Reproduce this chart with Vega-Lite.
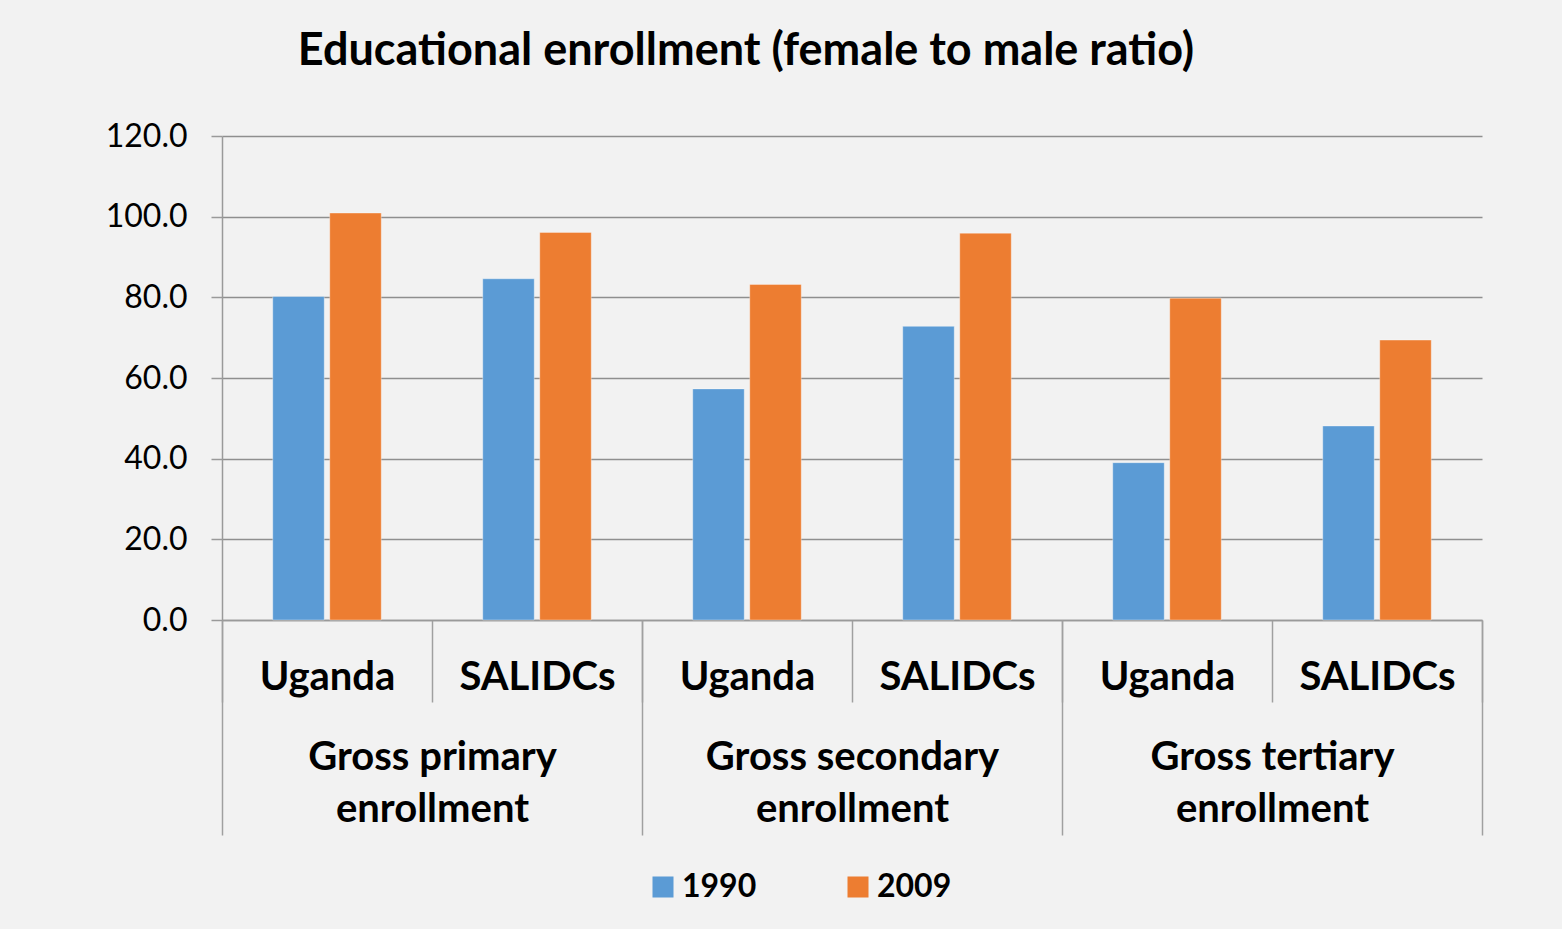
{
  "$schema": "https://vega.github.io/schema/vega-lite/v6.json",
  "width": 1260,
  "height": 484,
  "autosize": {"type": "none"},
  "padding": {"left": 222, "top": 136, "right": 80, "bottom": 309},
  "background": "#f2f2f2",
  "config": {"view": {"stroke": null}, "font": "Lato"},
  "title": {
    "text": "Educational enrollment (female to male ratio)",
    "frame": "group",
    "anchor": "middle",
    "dx": -106,
    "offset": 46,
    "fontSize": 45,
    "font": "Lato",
    "fontWeight": "bold",
    "color": "#000000"
  },
  "data": {
    "values": [
      {"category": "Gross primary enrollment", "bar_group": "primary-Uganda", "country": "Uganda", "year": "1990", "value": 80.2},
      {"category": "Gross primary enrollment", "bar_group": "primary-Uganda", "country": "Uganda", "year": "2009", "value": 100.9},
      {"category": "Gross primary enrollment", "bar_group": "primary-SALIDCs", "country": "SALIDCs", "year": "1990", "value": 84.6},
      {"category": "Gross primary enrollment", "bar_group": "primary-SALIDCs", "country": "SALIDCs", "year": "2009", "value": 96.1},
      {"category": "Gross secondary enrollment", "bar_group": "secondary-Uganda", "country": "Uganda", "year": "1990", "value": 57.3},
      {"category": "Gross secondary enrollment", "bar_group": "secondary-Uganda", "country": "Uganda", "year": "2009", "value": 83.2},
      {"category": "Gross secondary enrollment", "bar_group": "secondary-SALIDCs", "country": "SALIDCs", "year": "1990", "value": 72.8},
      {"category": "Gross secondary enrollment", "bar_group": "secondary-SALIDCs", "country": "SALIDCs", "year": "2009", "value": 95.9},
      {"category": "Gross tertiary enrollment", "bar_group": "tertiary-Uganda", "country": "Uganda", "year": "1990", "value": 39.0},
      {"category": "Gross tertiary enrollment", "bar_group": "tertiary-Uganda", "country": "Uganda", "year": "2009", "value": 79.8},
      {"category": "Gross tertiary enrollment", "bar_group": "tertiary-SALIDCs", "country": "SALIDCs", "year": "1990", "value": 48.1},
      {"category": "Gross tertiary enrollment", "bar_group": "tertiary-SALIDCs", "country": "SALIDCs", "year": "2009", "value": 69.4}
    ]
  },
  "encoding": {
    "y": {
      "field": "value",
      "type": "quantitative",
      "title": null,
      "stack": null,
      "scale": {"domain": [0, 120], "nice": false},
      "axis": {
        "values": [0, 20, 40, 60, 80, 100, 120],
        "format": ".1f",
        "labelFontSize": 32,
        "labelFont": "Lato",
        "labelColor": "#000000",
        "labelPadding": 24,
        "tickSize": 11,
        "tickColor": "#9a9a9a",
        "tickWidth": 1.5,
        "domainColor": "#9a9a9a",
        "domainWidth": 1.5,
        "grid": true,
        "gridColor": "#8f8f8f",
        "gridWidth": 1.5
      }
    }
  },
  "layer": [
    {
      "mark": {"type": "bar", "stroke": "#ffffff", "strokeOpacity": 0.35, "strokeWidth": 1},
      "encoding": {
        "x": {
          "field": "bar_group",
          "type": "nominal",
          "sort": null,
          "title": null,
          "scale": {"paddingInner": 0, "paddingOuter": 0},
          "axis": {
            "orient": "bottom",
            "labelExpr": "datum.value ? split(datum.value, '-')[1] : ''",
            "labelAngle": 0,
            "labelLimit": 0,
            "labelFontSize": 40,
            "labelFont": "Lato",
            "labelFontWeight": "bold",
            "labelColor": "#000000",
            "labelBaseline": "alphabetic",
            "labelPadding": -13,
            "tickBand": "extent",
            "tickSize": 82,
            "tickColor": "#a0a0a0",
            "tickWidth": 1.5,
            "domainColor": "#9a9a9a",
            "domainWidth": 1.5,
            "grid": false
          }
        },
        "xOffset": {
          "field": "year",
          "type": "nominal",
          "scale": {"paddingInner": 0.0965, "paddingOuter": 0.89}
        },
        "color": {
          "field": "year",
          "type": "nominal",
          "scale": {"domain": ["1990", "2009"], "range": ["#5b9bd5", "#ed7d31"]},
          "legend": {
            "title": null,
            "orient": "none",
            "legendX": 425,
            "legendY": 735,
            "direction": "horizontal",
            "padding": 0,
            "symbolType": "square",
            "symbolSize": 441,
            "symbolStrokeWidth": 0,
            "labelFontSize": 32,
            "labelFont": "Lato",
            "labelFontWeight": "bold",
            "labelColor": "#000000",
            "labelOffset": 3,
            "columnPadding": 85
          }
        }
      }
    },
    {
      "mark": {"type": "bar", "opacity": 0},
      "encoding": {
        "x": {
          "field": "category",
          "type": "nominal",
          "sort": null,
          "title": null,
          "scale": {"paddingInner": 0, "paddingOuter": 0},
          "axis": {
            "orient": "bottom",
            "labelExpr": "datum.value ? [replace(datum.value, ' enrollment', ''), 'enrollment'] : ''",
            "labelAngle": 0,
            "labelLimit": 0,
            "labelFontSize": 40,
            "labelFont": "Lato",
            "labelFontWeight": "bold",
            "labelColor": "#000000",
            "labelBaseline": "alphabetic",
            "labelLineHeight": 52,
            "labelPadding": -66,
            "tickBand": "extent",
            "tickSize": 215,
            "tickColor": "#a0a0a0",
            "tickWidth": 1.5,
            "domain": false,
            "grid": false
          }
        }
      }
    }
  ],
  "resolve": {"scale": {"x": "independent"}, "axis": {"x": "independent"}}
}
